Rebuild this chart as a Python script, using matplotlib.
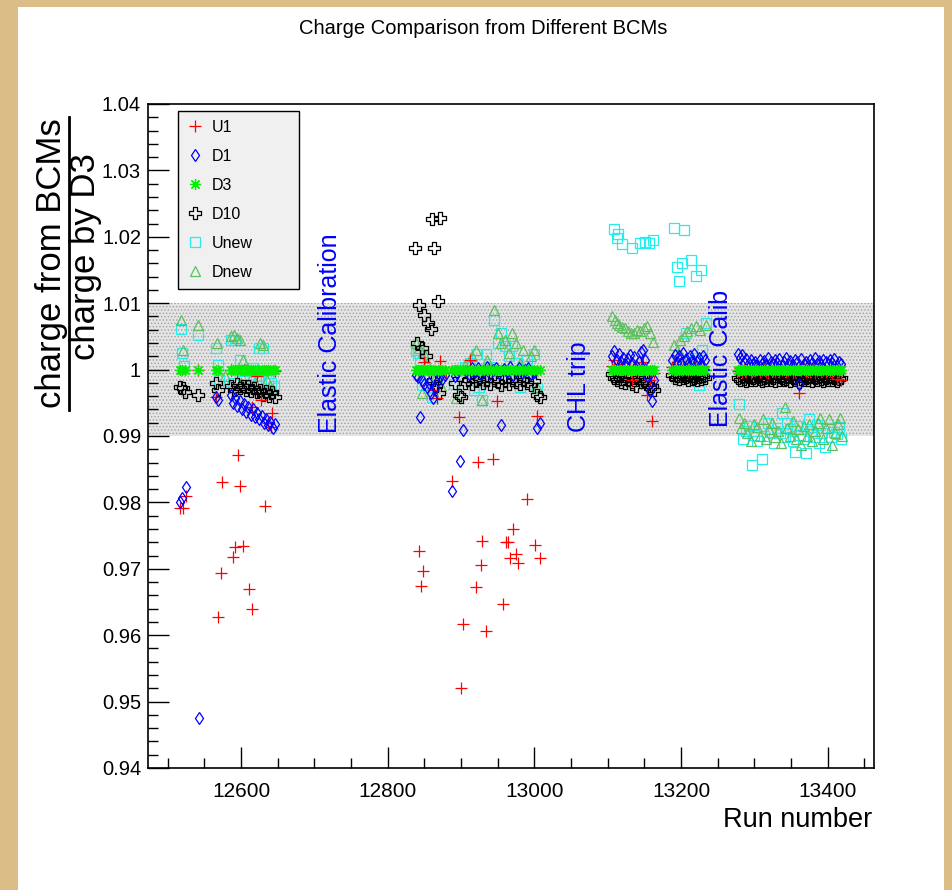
import numpy as np
import matplotlib.pyplot as plt
import matplotlib.patches as mpatches
from matplotlib.lines import Line2D
from matplotlib.path import Path
from matplotlib.ticker import MultipleLocator, FuncFormatter

# ── Data ───────────────────────────────────────────────────────
# run lists of the four run periods
run_a = [12517, 12520, 12523, 12541, 12566, 12569, 12586, 12589, 12592, 12595,
         12598, 12601, 12604, 12607, 12610, 12613, 12616, 12619, 12622, 12625,
         12628, 12631, 12634, 12637, 12640, 12643, 12646]
run_b1 = [12838, 12841, 12844, 12847, 12850, 12853, 12856, 12859, 12862, 12865,
          12868, 12871, 12874, 12878]
run_b2 = [12887, 12891, 12895, 12899, 12903, 12907, 12911, 12915, 12919, 12923,
          12927, 12931, 12935, 12939, 12943, 12947, 12951, 12955, 12959, 12963,
          12967, 12971, 12975, 12979, 12983, 12987, 12991, 12995, 12999, 13003,
          13007]
run_c1 = [13106, 13109, 13112, 13115, 13118, 13121, 13124, 13127, 13130, 13133,
          13136, 13139, 13142, 13145, 13148, 13151, 13154, 13157, 13160, 13163]
run_c2 = [13188, 13191, 13194, 13197, 13200, 13203, 13206, 13209, 13212, 13215,
          13218, 13221, 13224, 13227, 13230, 13233]
run_d = [13277, 13280, 13283, 13286, 13289, 13292, 13295, 13298, 13301, 13304,
         13307, 13310, 13313, 13316, 13319, 13322, 13325, 13328, 13331, 13334,
         13337, 13340, 13343, 13346, 13349, 13352, 13355, 13358, 13361, 13364,
         13367, 13370, 13373, 13376, 13379, 13382, 13385, 13388, 13391, 13394,
         13397, 13400, 13403, 13406, 13409, 13412, 13415, 13418]

# D3 is the reference, so D3/D3 = 1 for every run
d3_run = run_a + run_b1 + run_b2 + run_c1 + run_c2 + run_d
d3_val = [1.0] * len(d3_run)

# U1
u1_run_ab = [12517, 12521, 12525, 12569, 12572, 12574, 12589, 12591, 12596, 12598,
             12603, 12611, 12615, 12633, 12541, 12566, 12586, 12595, 12604, 12615,
             12622, 12627, 12636, 12641, 12642, 12646,
             12842, 12845, 12848, 12888, 12900, 12902, 12920, 12923, 12927, 12929,
             12934, 12943, 12957, 12961, 12964, 12966, 12971, 12975, 12978, 12990,
             13001, 13008, 12850, 12861, 12867, 12871, 12912, 12949, 12897, 13004,
             12856, 12880, 12935, 12985]
u1_val_ab = [0.9791, 0.9792, 0.9810, 0.9628, 0.9694, 0.9830, 0.9718, 0.9733, 0.9871, 0.9825,
             0.9734, 0.9670, 0.9640, 0.9795, 1.0000, 0.9959, 1.0000, 0.9997, 1.0000, 0.9944,
             0.9990, 0.9954, 0.9920, 0.9914, 0.9935, 0.9998,
             0.9727, 0.9674, 0.9697, 0.9832, 0.9520, 0.9617, 0.9672, 0.9861, 0.9706, 0.9742,
             0.9607, 0.9865, 0.9647, 0.9740, 0.9740, 0.9717, 0.9760, 0.9723, 0.9709, 0.9805,
             0.9736, 0.9716, 1.0012, 0.9969, 0.9957, 1.0013, 1.0014, 0.9952, 0.9929, 0.9930,
             0.9998, 0.9997, 1.0000, 0.9998]
u1_val_c1 = [1.0005, 1.0014, 1.0003, 1.0008, 1.0002, 1.0006, 0.9998, 1.0004, 1.0001, 0.9984,
             1.0003, 0.9999, 1.0002, 1.0005, 1.0012, 1.0003, 0.9962, 0.9985, 0.9922, 0.9995]
u1_val_c2 = [1.0004, 1.0001, 1.0006, 0.9999, 1.0003, 1.0007, 1.0002, 0.9998, 1.0005, 1.0001,
             1.0006, 0.9999, 1.0003, 1.0002, 1.0005, 1.0000]
u1_val_d = [0.9998, 1.0002, 0.9996, 1.0001, 0.9997, 1.0003, 0.9995, 1.0000,
            0.9998, 1.0002, 0.9996, 0.9999, 1.0001, 0.9997, 0.9995, 1.0002,
            0.9998, 0.9996, 1.0001, 0.9997, 0.9999, 1.0002, 0.9996, 0.9998,
            1.0001, 0.9995, 0.9997, 1.0000, 0.9965, 0.9998, 1.0002, 0.9996,
            0.9999, 0.9997, 1.0001, 0.9995, 0.9998, 1.0002, 0.9996, 0.9999,
            0.9997, 1.0001, 0.9998, 0.9995, 0.9999, 0.9986, 0.9997, 0.9985]

# D1
d1_run_ab = [12517, 12520, 12525, 12542, 12566, 12569,
             12586, 12589, 12592, 12595, 12598, 12601, 12604, 12607, 12610, 12613,
             12616, 12619, 12622, 12625, 12628, 12631, 12634, 12637, 12640, 12643, 12646]
d1_run_ab = d1_run_ab + run_b1 + run_b2
d1_val_ab = [0.9801, 0.9807, 0.9823, 0.9475, 0.9958, 0.9954,
             0.9962, 0.9950, 0.9957, 0.9945, 0.9952, 0.9940, 0.9948, 0.9936, 0.9944, 0.9932,
             0.9940, 0.9928, 0.9935, 0.9925, 0.9930, 0.9920, 0.9926, 0.9916, 0.9921, 0.9912, 0.9918,
             0.9992, 0.9989, 0.9928, 0.9985, 0.9978, 0.9974, 0.9980, 0.9965, 0.9957, 0.9972,
             0.9984, 0.9990, 0.9986, 0.9992,
             0.9817, 0.9990, 0.9995, 0.9863, 0.9909, 0.9998, 0.9993, 1.0003, 0.9996, 1.0002,
             0.9994, 0.9998, 1.0004, 0.9993, 0.9999, 1.0003, 0.9995, 0.9917, 1.0001, 0.9996,
             1.0004, 0.9992, 0.9998, 1.0002, 0.9995, 0.9999, 1.0003, 0.9994, 0.9997, 0.9912,
             0.9920]
d1_val_c1 = [1.0020, 1.0028, 1.0015, 1.0024, 1.0012, 1.0018, 1.0008, 1.0016, 1.0022, 1.0010,
             1.0019, 1.0005, 1.0012, 1.0026, 1.0030, 1.0014, 0.9990, 0.9968, 0.9952, 0.9985]
d1_val_c2 = [1.0015, 1.0022, 1.0012, 1.0020, 1.0010, 1.0025, 1.0016, 1.0008, 1.0021, 1.0013,
             1.0024, 1.0011, 1.0018, 1.0009, 1.0020, 1.0014]
d1_val_d = [1.0024, 1.0018, 1.0022, 1.0012, 1.0016, 1.0010, 1.0014, 1.0008,
            1.0012, 1.0006, 1.0015, 1.0009, 1.0013, 1.0007, 1.0017, 1.0011,
            1.0008, 1.0014, 1.0010, 1.0016, 1.0006, 1.0012, 1.0018, 1.0009,
            1.0013, 1.0007, 1.0015, 1.0011, 0.9978, 1.0016, 1.0008, 1.0012,
            1.0006, 1.0014, 1.0010, 1.0017, 1.0009, 1.0013, 1.0007, 1.0015,
            1.0011, 1.0008, 1.0014, 1.0010, 1.0016, 1.0006, 1.0012, 1.0009]

# D10
d10_run_ab = [12517, 12521, 12523, 12541, 12566, 12569, 12586, 12590, 12594, 12598,
              12602, 12606, 12610, 12614, 12618, 12622, 12626, 12630, 12634, 12638,
              12642, 12646,
              12837, 12843, 12850, 12855, 12859, 12860, 12863, 12868, 12871, 12840,
              12846, 12852, 12862, 12866, 12870,
              12892, 12897, 12900, 12905, 12910, 12915, 12920, 12925, 12930, 12935,
              12940, 12945, 12950, 12955, 12960, 12965, 12970, 12975, 12980, 12985,
              12990, 12995, 13000, 13004, 13007]
d10_val_ab = [0.9974, 0.9972, 0.9966, 0.9962, 0.9980, 0.9970, 0.9975, 0.9970, 0.9978, 0.9973,
              0.9976, 0.9970, 0.9975, 0.9968, 0.9972, 0.9966, 0.9970, 0.9962, 0.9968, 0.9960,
              0.9966, 0.9958,
              1.0183, 1.0097, 1.0082, 1.0070, 1.0061, 1.0227, 1.0183, 1.0104, 1.0228, 1.0040,
              1.0032, 1.0020, 0.9985, 0.9975, 0.9965,
              0.9980, 0.9962, 0.9958, 0.9980, 0.9985, 0.9978, 0.9983, 0.9987, 0.9980, 0.9984,
              0.9978, 0.9985, 0.9981, 0.9977, 0.9983, 0.9979, 0.9985, 0.9981, 0.9978, 0.9984,
              0.9980, 0.9977, 0.9983, 0.9962, 0.9958]
d10_val_c1 = [0.9993, 0.9988, 0.9985, 0.9990, 0.9982, 0.9986, 0.9980, 0.9984, 0.9990, 0.9978,
              0.9984, 0.9976, 0.9988, 0.9982, 0.9990, 0.9985, 0.9978, 0.9972, 0.9975, 0.9970]
d10_val_c2 = [0.9992, 0.9988, 0.9990, 0.9986, 0.9991, 0.9987, 0.9989, 0.9985, 0.9990, 0.9986,
              0.9988, 0.9984, 0.9989, 0.9986, 0.9990, 0.9987]
d10_val_d = [0.9988, 0.9984, 0.9990, 0.9986, 0.9983, 0.9989, 0.9985, 0.9987,
             0.9984, 0.9990, 0.9986, 0.9983, 0.9988, 0.9985, 0.9989, 0.9984,
             0.9987, 0.9983, 0.9990, 0.9985, 0.9988, 0.9984, 0.9986, 0.9989,
             0.9983, 0.9987, 0.9985, 0.9990, 0.9982, 0.9986, 0.9984, 0.9988,
             0.9985, 0.9989, 0.9983, 0.9987, 0.9984, 0.9990, 0.9986, 0.9983,
             0.9988, 0.9985, 0.9989, 0.9984, 0.9987, 0.9983, 0.9986, 0.9988]

# Unew
unew_run = [12518, 12520, 12522, 12541, 12566, 12568, 12570, 12586, 12592, 12598,
            12602, 12607, 12612, 12616, 12620, 12625, 12630, 12634, 12637, 12641,
            12645, 12589, 12624,
            12838, 12841, 12844, 12846, 12850, 12860, 12866, 12890, 12897, 12905,
            12912, 12918, 12922, 12925, 12929, 12934, 12938, 12945, 12950, 12955,
            12960, 12965, 12970, 12975, 12980, 12985, 12990, 12995, 13000, 13004,
            12958,
            13109, 13114, 13113, 13120, 13133, 13144, 13151, 13156, 13161,
            13190, 13195, 13197, 13201, 13204, 13214, 13220, 13227,
            13206, 13234, 13229, 13224, 13210, 13215, 13219,
            13279, 13284, 13288, 13292, 13296, 13300, 13304, 13310, 13313, 13318,
            13322, 13327, 13331, 13335, 13338, 13341, 13345, 13348, 13352, 13355,
            13358, 13362, 13366, 13370, 13374, 13377, 13381, 13385, 13388, 13392,
            13396, 13400, 13405, 13409, 13413, 13415, 13418]
unew_val = [1.0061, 1.0025, 1.0005, 1.0052, 1.0032, 1.0007, 0.9985, 1.0045, 1.0045, 1.0014,
            0.9998, 1.0000, 0.9990, 1.0002, 0.9985, 1.0033, 1.0033, 0.9967, 0.9984, 0.9980,
            0.9975, 0.9980, 0.9990,
            1.0030, 1.0025, 1.0015, 0.9977, 1.0000, 0.9959, 0.9985, 0.9979, 0.9999, 1.0004,
            1.0010, 0.9969, 1.0024, 0.9974, 0.9954, 1.0024, 1.0004, 1.0075, 1.0040, 1.0055,
            1.0035, 1.0020, 1.0035, 1.0010, 0.9974, 1.0005, 1.0015, 0.9995, 1.0024, 0.9972,
            1.0000,
            1.0212, 1.0204, 1.0198, 1.0189, 1.0183, 1.0190, 1.0192, 1.0190, 1.0195,
            1.0214, 1.0154, 1.0133, 1.0160, 1.0210, 1.0165, 1.0141, 1.0150,
            1.0055, 1.0070, 1.0030, 0.9977, 1.0012, 1.0005, 1.0018,
            0.9948, 0.9896, 0.9908, 0.9915, 0.9856, 0.9902, 0.9893, 0.9866, 0.9900, 0.9919,
            0.9906, 0.9889, 0.9912, 0.9905, 0.9934, 0.9898, 0.9920, 0.9910, 0.9893, 0.9876,
            0.9915, 0.9902, 0.9895, 0.9874, 0.9925, 0.9908, 0.9898, 0.9917, 0.9890, 0.9905,
            0.9884, 0.9912, 0.9898, 0.9906, 0.9903, 0.9914, 0.9895]

# Dnew
dnew_run = [12518, 12521, 12541, 12567, 12586, 12590, 12594, 12598, 12603, 12608,
            12615, 12620, 12626, 12630, 12635, 12640, 12644, 12578, 12600,
            12838, 12843, 12848, 12853, 12846, 12866, 12872, 12893, 12905, 12915,
            12920, 12928, 12935, 12945, 12950, 12955, 12960, 12965, 12970, 12975,
            12980, 12985, 12990, 12995, 13000, 13004, 12940, 12925,
            13106, 13110, 13113, 13115, 13120, 13124, 13128, 13131, 13136, 13140,
            13144, 13150, 13154, 13157, 13161,
            13190, 13194, 13198, 13204, 13208, 13213, 13220, 13226, 13234, 13200, 13215,
            13279, 13282, 13286, 13290, 13295, 13299, 13304, 13308, 13312, 13316,
            13320, 13324, 13328, 13332, 13336, 13341, 13345, 13349, 13353, 13357,
            13360, 13363, 13367, 13371, 13375, 13379, 13383, 13387, 13390, 13394,
            13398, 13402, 13406, 13410, 13414, 13417, 13420]
dnew_val = [1.0075, 1.0029, 1.0067, 1.0040, 1.0050, 1.0052, 1.0047, 1.0045, 1.0015, 1.0002,
            0.9990, 0.9998, 1.0040, 1.0037, 0.9985, 0.9975, 0.9970, 0.9990, 0.9980,
            1.0040, 1.0033, 1.0027, 1.0010, 0.9965, 0.9990, 0.9975, 0.9957, 1.0007, 1.0020,
            1.0030, 0.9954, 1.0015, 1.0090, 1.0055, 1.0040, 1.0045, 1.0025, 1.0055, 1.0040,
            1.0010, 1.0030, 0.9995, 1.0020, 1.0030, 0.9974, 1.0005, 0.9985,
            1.0080, 1.0075, 1.0070, 1.0067, 1.0064, 1.0062, 1.0058, 1.0055, 1.0055, 1.0060,
            1.0058, 1.0062, 1.0066, 1.0055, 1.0042,
            1.0037, 1.0030, 1.0045, 1.0050, 1.0058, 1.0063, 1.0065, 1.0060, 1.0067, 1.0020, 1.0015,
            0.9927, 0.9912, 0.9920, 0.9905, 0.9892, 0.9918, 0.9914, 0.9900, 0.9925, 0.9896,
            0.9910, 0.9920, 0.9898, 0.9908, 0.9890, 0.9944, 0.9912, 0.9900, 0.9922, 0.9895,
            0.9910, 0.9886, 0.9915, 0.9900, 0.9918, 0.9893, 0.9908, 0.9920, 0.9927, 0.9896,
            0.9912, 0.9925, 0.9886, 0.9905, 0.9918, 0.9927, 0.9900]

u1_run = u1_run_ab + run_c1 + run_c2 + run_d
u1_val = u1_val_ab + u1_val_c1 + u1_val_c2 + u1_val_d
d1_run = d1_run_ab + run_c1 + run_c2 + run_d
d1_val = d1_val_ab + d1_val_c1 + d1_val_c2 + d1_val_d
d10_run = d10_run_ab + run_c1 + run_c2 + run_d
d10_val = d10_val_ab + d10_val_c1 + d10_val_c2 + d10_val_d

# ── Style ──────────────────────────────────────────────────────
plt.rcParams['font.family'] = ['Liberation Sans', 'DejaVu Sans']
plt.rcParams['hatch.linewidth'] = 0.6

# ROOT-like open cross marker
open_cross = Path([(-1, -3), (1, -3), (1, -1), (3, -1), (3, 1), (1, 1), (1, 3),
                   (-1, 3), (-1, 1), (-3, 1), (-3, -1), (-1, -1), (-1, -3)],
                  closed=True)
star8 = (8, 2, 0)

series = [
    # label, runs, values, marker, color, size
    ('Unew', unew_run, unew_val, 's', '#22eeee', 7),
    ('Dnew', dnew_run, dnew_val, '^', '#5cc05c', 7.5),
    ('D10', d10_run, d10_val, open_cross, 'black', 8),
    ('U1', u1_run, u1_val, '+', '#ff0000', 9),
    ('D1', d1_run, d1_val, 'd', '#0000ff', 6.5),
    ('D3', d3_run, d3_val, star8, '#00ee00', 8),
]

fig = plt.figure(figsize=(9.52, 8.90), dpi=100)
fig.patch.set_facecolor('#dbbd87')
fig.patches.append(mpatches.Rectangle((18 / 952, 0), 926 / 952, 883 / 890,
                                      transform=fig.transFigure,
                                      facecolor='white', edgecolor='none', zorder=-5))

ax = fig.add_axes([148 / 952, 1 - 768 / 890, 726 / 952, 664 / 890])
ax.set_facecolor('white')

# ±1% band
ax.axhspan(0.99, 1.01, facecolor='#e4e4e4', edgecolor='#a0a0a0',
           hatch='.....', linewidth=0, zorder=1)

handles = {}
for label, runs, vals, marker, col, ms in series:
    filled = marker in ('+', star8)
    ln, = ax.plot(runs, vals, linestyle='none', marker=marker, markersize=ms,
                  markerfacecolor=col if filled else 'none',
                  markeredgecolor=col, markeredgewidth=0.9, zorder=3)
    handles[label] = ln

# annotations
ax.text(12721, 0.9905, 'Elastic Calibration', rotation=90, color='#0000ff',
        fontsize=18, ha='center', va='bottom', zorder=4)
ax.text(13061, 0.9906, 'CHL trip', rotation=90, color='#0000ff',
        fontsize=18, ha='center', va='bottom', zorder=4)
ax.text(13254, 0.9914, 'Elastic Calib', rotation=90, color='#0000ff',
        fontsize=18, ha='center', va='bottom', zorder=4)

# ── Axes ───────────────────────────────────────────────────────
ax.set_xlim(12473, 13463)
ax.set_ylim(0.94, 1.04)
ax.set_xticks([12600, 12800, 13000, 13200, 13400])
ax.xaxis.set_minor_locator(MultipleLocator(50))
ax.set_yticks(np.round(np.arange(0.94, 1.0401, 0.01), 2))
ax.yaxis.set_minor_locator(MultipleLocator(0.002))
ax.yaxis.set_major_formatter(FuncFormatter(lambda v, p: f'{round(v, 3):g}'))
ax.tick_params(which='both', direction='in', top=False, right=False,
               labelsize=15, width=1.0)
ax.tick_params(axis='y', labelsize=14.5)
ax.tick_params(which='major', length=15)
ax.tick_params(which='minor', length=7.5)
ax.tick_params(axis='y', which='major', pad=5)
ax.tick_params(axis='x', which='major', pad=10)
for sp in ax.spines.values():
    sp.set_linewidth(1.2)

# legend
order = ['U1', 'D1', 'D3', 'D10', 'Unew', 'Dnew']
leg = ax.legend([handles[k] for k in order], order, loc='upper left',
                bbox_to_anchor=(0.0413, 0.3, 0.1667, 0.6895), mode='expand',
                borderaxespad=0, fontsize=11.5, frameon=True, fancybox=False,
                facecolor='#f0f0f0', edgecolor='black', framealpha=1,
                labelspacing=0.88, handlelength=1.0, handletextpad=0.55,
                borderpad=0.55, numpoints=1)
leg.get_frame().set_linewidth(1.0)
leg.set_zorder(5)

# titles / labels
fig.text(483 / 952, 1 - 28 / 890, 'Charge Comparison from Different BCMs',
         ha='center', va='center', fontsize=14.5)
fig.text(872 / 952, 1 - 820 / 890, 'Run number', ha='right', va='center', fontsize=19.5)

fig.text(52 / 952, 1 - 263 / 890, 'charge from BCMs', rotation=90,
         ha='center', va='center', fontsize=25)
fig.text(86 / 952, 1 - 257 / 890, 'charge by D3', rotation=90,
         ha='center', va='center', fontsize=25)
fig.add_artist(Line2D([69 / 952, 69 / 952], [1 - 117 / 890, 1 - 410 / 890],
                      color='black', linewidth=2.0, transform=fig.transFigure))

fig.savefig('out.png', dpi=100, facecolor=fig.get_facecolor())
